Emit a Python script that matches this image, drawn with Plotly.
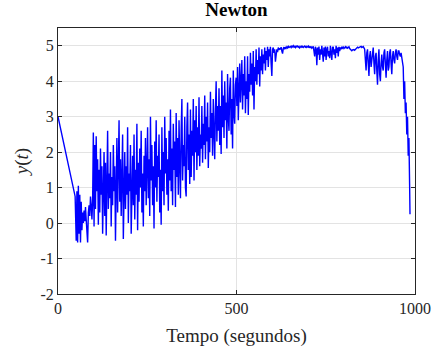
import numpy as np
import plotly.graph_objects as go

# --- data ---
t_head = [0, 48]
y_head = [3.0, 0.75]

# main samples, one every 2 s starting at t = 51
t_main_start = 51
t_main_step = 2
y_main = [
    # 51 - 89
    -0.5, 0.9, -0.55, 1.05, -0.3, 0.8, -0.55, 0.6, -0.2, 0.3,
    0.0, 0.35, 0.05, 0.45, 0.1, -0.3, -0.55, 0.3, 0.5, 0.2,
    # 91 - 129
    0.75, 0.5, 0.1, 0.6, 2.55, -0.1, 2.2, 0.4, 2.45, 0.9,
    1.8, -0.05, 1.5, 0.3, 2.1, 0.8, 1.6, -0.3, 1.2, 2.0,
    # 131 - 169
    0.2, 1.7, -0.35, 1.1, 2.6, 0.4, 1.4, 0.7, 2.0, -0.1,
    1.3, 0.5, 2.2, 0.9, 1.6, -0.5, 1.0, 2.4, 0.3, 1.5,
    # 171 - 209
    2.9, 0.6, 1.8, 0.2, 1.3, 2.5, -0.45, 1.1, 2.0, 0.4,
    1.6, 0.8, 2.7, 0.0, 1.4, 0.9, 2.2, -0.3, 1.2, 1.9,
    # 211 - 249
    0.5, 2.5, 0.1, 1.5, 0.8, 2.8, -0.2, 1.7, 0.6, 2.1,
    1.0, 2.6, 0.3, 1.4, -0.1, 1.9, 0.9, 2.4, 0.5, 1.6,
    # 251 - 289
    2.7, 0.7, 1.8, 0.2, 3.0, 1.2, 2.2, 0.5, 1.6, -0.15,
    2.3, 1.0, 2.9, 0.6, 1.9, 1.3, 2.5, 0.3, 1.5, -0.05,
    # 291 - 329
    2.7, 0.9, 2.0, 0.5, 3.0, 1.4, 2.4, 0.8, 1.8, 0.35,
    2.6, 1.2, 3.2, 0.9, 2.1, 0.5, 2.8, 1.5, 2.3, 0.45,
    # 331 - 369
    3.1, 1.3, 2.4, 0.8, 2.9, 1.7, 0.7, 2.6, 3.5, 1.2,
    2.2, 1.6, 3.0, 1.0, 0.75, 2.7, 3.4, 1.5, 2.5, 1.1,
    # 371 - 409
    3.2, 1.3, 2.6, 1.9, 3.5, 1.2, 2.9, 2.0, 3.3, 1.5,
    2.7, 1.9, 3.55, 1.6, 2.5, 2.1, 3.3, 1.7, 2.8, 2.2,
    # 411 - 449
    3.6, 1.8, 3.0, 2.3, 3.4, 1.55, 2.7, 2.0, 3.7, 2.4,
    3.1, 1.9, 3.5, 2.6, 1.8, 3.2, 4.0, 2.3, 3.3, 2.6,
    # 451 - 489
    3.8, 2.2, 3.3, 1.95, 4.3, 2.7, 3.6, 2.4, 4.0, 2.9,
    3.4, 2.1, 4.2, 3.0, 2.6, 3.8, 4.1, 2.5, 3.5, 2.1,
    # 491 - 529
    4.3, 3.1, 2.8, 3.9, 4.1, 3.3, 4.4, 2.9, 3.8, 4.5,
    3.4, 4.0, 4.6, 3.2, 4.2, 3.6, 4.7, 3.1, 4.0, 3.5,
    # 531 - 569
    4.7, 3.05, 4.2, 3.7, 4.8, 3.9, 4.5, 3.6, 4.85, 3.2,
    4.4, 4.0, 4.9, 3.9, 4.6, 4.2, 4.95, 3.85, 4.7, 4.3,
    # 571 - 609
    4.9, 4.2, 4.75, 4.5, 4.95, 4.3, 4.85, 4.6, 4.97, 4.4,
    4.9, 4.7, 4.97, 4.5, 4.15, 4.9, 4.95, 4.8, 4.9, 4.55,
    # 611 - 649
    4.85, 4.9, 4.82, 4.95, 4.88, 4.93, 4.9, 4.96, 4.85, 4.78,
    4.92, 4.96, 4.9, 4.95, 4.93, 4.97, 4.94, 4.98, 4.95, 4.97,
    # 651 - 689
    4.98, 4.95, 4.99, 4.97, 5.0, 4.96, 4.98, 4.95, 4.99, 4.97,
    4.99, 4.96, 4.98, 4.94, 4.97, 4.99, 4.96, 4.98, 4.95, 4.97,
    # 691 - 729
    4.99, 4.96, 4.98, 4.95, 4.97, 4.99, 4.94, 4.97, 4.95, 4.98,
    4.93, 4.97, 4.98, 4.85, 4.7, 4.97, 4.9, 4.45, 4.95, 4.75,
    # 731 - 769
    4.98, 4.6, 4.9, 4.75, 5.0, 4.8, 4.55, 4.95, 4.7, 4.98,
    4.6, 4.9, 4.97, 4.7, 4.85, 4.65, 5.0, 4.8, 4.6, 4.95,
    # 771 - 809
    4.97, 4.75, 4.9, 4.65, 5.0, 4.8, 4.95, 4.7, 4.97, 4.85,
    4.95, 4.9, 4.97, 4.93, 4.96, 4.92, 4.95, 4.97, 4.94, 4.96,
    # 811 - 849
    4.93, 4.95, 4.97, 4.92, 4.9, 4.88, 4.86, 4.88, 4.9, 4.89,
    4.87, 4.9, 4.93, 4.95, 4.96, 4.94, 4.95, 4.97, 4.96, 4.98,
    # 851 - 889
    4.95, 4.97, 4.98, 4.94, 4.9, 4.6, 4.3, 4.8, 4.9, 4.5,
    4.15, 4.7, 4.85, 4.4, 4.6, 4.9, 4.95, 4.5, 4.2, 4.7,
    # 891 - 929
    4.8, 4.3, 3.9, 4.6, 4.9, 4.2, 4.0, 4.5, 4.75, 4.4,
    4.3, 4.8, 4.9, 4.5, 4.1, 4.6, 4.85, 4.3, 4.4, 4.8,
    # 931 - 965
    4.9, 4.5, 4.2, 4.7, 4.85, 4.6, 4.5, 4.8, 4.9, 4.7,
    4.6, 4.85, 4.85, 4.75, 4.7, 4.8, 4.6, 4.5,
]

t_tail = [967, 969, 971, 973, 975, 977, 979, 981, 983, 985, 986]
y_tail = [4.4, 3.5, 4.0, 3.1, 3.4, 2.5, 3.0, 1.9, 2.4, 1.0, 0.25]

x_ticks = [0, 500, 1000]
y_ticks = [-2, -1, 0, 1, 2, 3, 4, 5]

title_text = "Newton"
x_label = "Tempo (segundos)"
y_label = "<i>y</i>(<i>t</i>)"

# --- assemble ---
t_main = list(t_main_start + t_main_step * np.arange(len(y_main)))
t_all = t_head + t_main + t_tail
y_all = y_head + y_main + y_tail

FONT = "Liberation Serif"
AXCOL = "#262626"
GRID = "#e3e3e3"

fig = go.Figure()
fig.add_trace(go.Scatter(x=t_all, y=y_all, mode="lines",
                         line=dict(color="#0000ff", width=1.4), showlegend=False))

fig.update_layout(
    width=438, height=347,
    margin=dict(l=58, r=23, t=28, b=53),
    paper_bgcolor="white", plot_bgcolor="white",
    font=dict(family=FONT, size=16, color=AXCOL),
    title=dict(text="<b>" + title_text + "</b>", x=0.5, xanchor="center",
               xref="paper", y=1, yref="container", yanchor="top", pad=dict(t=3),
               font=dict(family=FONT, size=19, color="black")),
)
fig.update_xaxes(
    range=[0, 1000], tickvals=x_ticks, ticktext=[str(v) for v in x_ticks],
    showgrid=True, gridcolor=GRID, gridwidth=1, zeroline=False,
    showline=True, linecolor=AXCOL, linewidth=1, mirror="ticks",
    ticks="inside", ticklen=4, tickcolor=AXCOL, automargin=False,
    tickfont=dict(family=FONT, size=16, color=AXCOL),
    title=dict(text=x_label, font=dict(family=FONT, size=19, color=AXCOL), standoff=12),
)
fig.update_yaxes(
    range=[-2, 5.5], tickvals=y_ticks, ticktext=[str(v) for v in y_ticks],
    showgrid=True, gridcolor=GRID, gridwidth=1, zeroline=False,
    showline=True, linecolor=AXCOL, linewidth=1, mirror="ticks",
    ticks="inside", ticklen=4, tickcolor=AXCOL, automargin=False,
    tickfont=dict(family=FONT, size=16, color=AXCOL),
    title=dict(text=y_label, font=dict(family=FONT, size=19, color=AXCOL), standoff=6),
)

fig.write_html("out.html")
